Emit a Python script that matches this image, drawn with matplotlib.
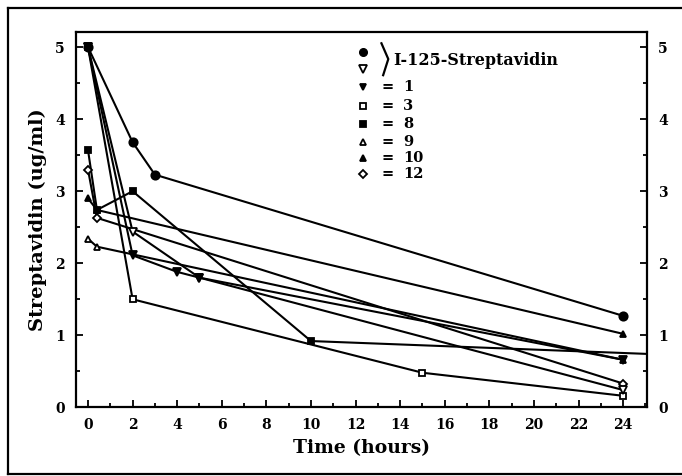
import matplotlib
matplotlib.use("Agg")
import matplotlib.pyplot as plt
from matplotlib.lines import Line2D
from matplotlib.ticker import MultipleLocator

plt.rcParams["font.family"] = "DejaVu Serif"
plt.rcParams["font.weight"] = "bold"

# I-125 streptavidin (two experiments)
i125a_t = [0, 2, 3, 24]
i125a_v = [5.0, 3.68, 3.23, 1.27]
i125b_t = [0, 2, 5, 24]
i125b_v = [5.0, 2.44, 1.80, 0.24]

# animals
s1_t = [0, 2, 4, 5, 24]
s1_v = [5.0, 2.11, 1.88, 1.80, 0.66]
s3_t = [0, 2, 15, 24]
s3_v = [5.0, 1.50, 0.48, 0.16]
s8_t = [0, 0.4, 2, 10, 48]
s8_v = [3.57, 2.74, 3.00, 0.92, 0.47]
s9_t = [0, 0.4, 24]
s9_v = [2.34, 2.23, 0.66]
s10_t = [0, 0.4, 24]
s10_v = [2.90, 2.74, 1.02]
s12_t = [0, 0.4, 24]
s12_v = [3.30, 2.63, 0.33]

legend_labels = ["1", "3", "8", "9", "10", "12"]

fig = plt.figure(figsize=(6.82, 4.76), dpi=100)
ax = fig.add_axes([0.1114, 0.1443, 0.8372, 0.7884])

lw = 1.5
common = dict(color="black", lw=lw, clip_on=True)
series = [
    (s8_t, s8_v, "s", "black", 4.5),
    (s12_t, s12_v, "D", "white", 4),
    (s10_t, s10_v, "^", "black", 5),
    (s9_t, s9_v, "^", "white", 5),
    (s3_t, s3_v, "s", "white", 5),
    (i125b_t, i125b_v, "v", "white", 5.5),
    (s1_t, s1_v, "v", "black", 5.5),
    (i125a_t, i125a_v, "o", "black", 6),
]
for t, v, m, fc, ms in series:
    ax.plot(t, v, marker=m, mfc=fc, mec="black", mew=1.3, ms=ms, **common)

ax.set_xlim(-0.54, 25.07)
ax.set_ylim(0, 5.21)
ax.xaxis.set_major_locator(MultipleLocator(2))
ax.xaxis.set_minor_locator(MultipleLocator(1))
ax.yaxis.set_major_locator(MultipleLocator(1))
ax.yaxis.set_minor_locator(MultipleLocator(0.5))
ax.tick_params(which="both", direction="in", top=False, right=True,
               labelright=True, width=1.3, labelsize=10)
ax.tick_params(which="major", length=5)
ax.tick_params(which="minor", length=3)
ax.tick_params(axis="x", pad=8)
ax.tick_params(axis="y", pad=8)
for sp in ax.spines.values():
    sp.set_linewidth(1.6)

ax.set_xlabel("Time (hours)", fontsize=13.5, fontweight="bold", labelpad=5)
ax.set_ylabel("Streptavidin (ug/ml)", fontsize=14, fontweight="bold", labelpad=6)

# legend drawn by hand
mx, eqx, nx = 0.503, 0.545, 0.573
ax.plot([mx], [0.948], "o", mfc="black", mec="black", ms=5.5, transform=ax.transAxes)
ax.plot([mx], [0.901], "v", mfc="white", mec="black", mew=1.3, ms=5.5, transform=ax.transAxes)
ax.add_line(Line2D([0.535, 0.547, 0.538], [0.970, 0.928, 0.885],
                   color="black", lw=1.6, transform=ax.transAxes))
ax.text(0.555, 0.925, "I-125-Streptavidin", transform=ax.transAxes,
        fontsize=11.5, fontweight="bold", va="center", ha="left")

leg_markers = [("v", "black"), ("s", "white"), ("s", "black"),
               ("^", "white"), ("^", "black"), ("D", "white")]
rows_y = [0.854, 0.804, 0.756, 0.708, 0.664, 0.622]
for (m, fc), lab, yy in zip(leg_markers, legend_labels, rows_y):
    ax.plot([mx], [yy], m, mfc=fc, mec="black", mew=1.3,
            ms=4 if m == "D" else 5, transform=ax.transAxes)
    ax.text(eqx, yy, "=", transform=ax.transAxes, fontsize=10.5,
            fontweight="bold", va="center", ha="center")
    ax.text(nx, yy, lab, transform=ax.transAxes, fontsize=10.5,
            fontweight="bold", va="center", ha="left")

# outer frame
for xs, ys in [([8, 8], [8, 474]), ([8, 690], [8, 8]), ([8, 690], [474, 474])]:
    fig.add_artist(Line2D([x / 682 for x in xs], [1 - y / 476 for y in ys],
                          color="black", lw=1.6, transform=fig.transFigure))

fig.savefig("out.png", dpi=100)
